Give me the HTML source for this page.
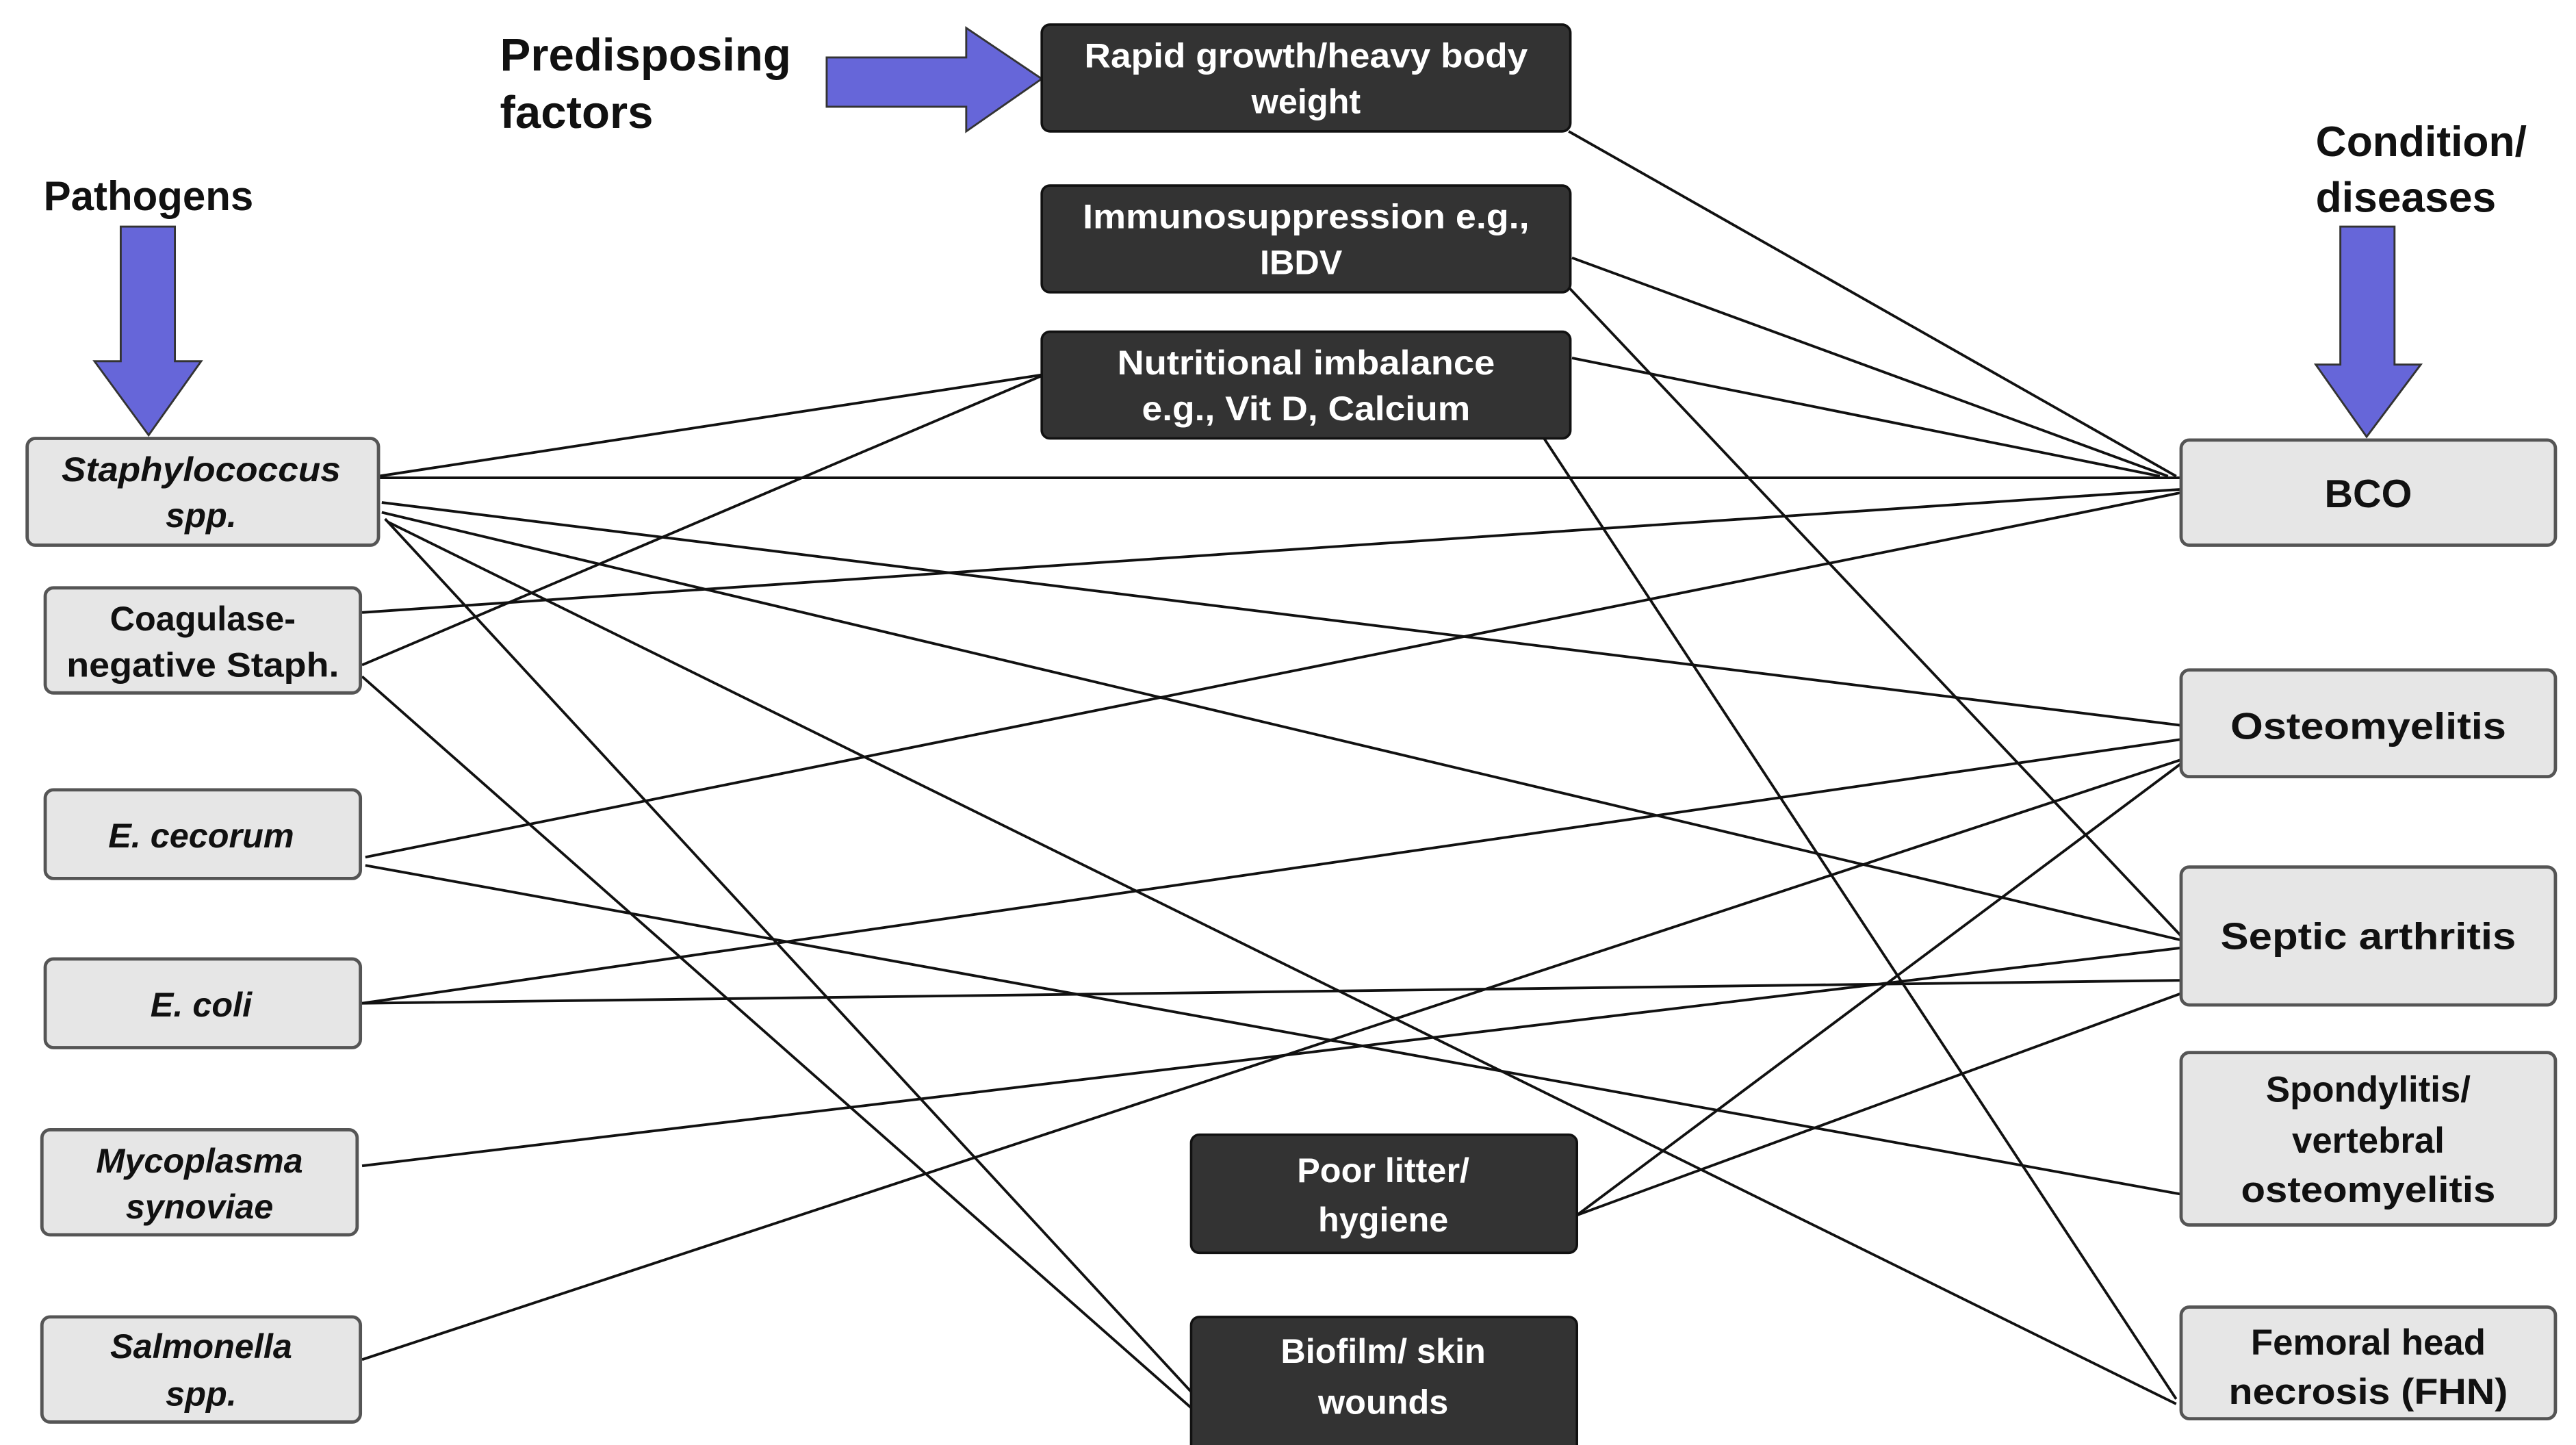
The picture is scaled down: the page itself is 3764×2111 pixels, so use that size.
<!DOCTYPE html>
<html><head><meta charset="utf-8"><style>
html,body{margin:0;padding:0;background:#fff;}
svg{display:block;}
text{font-family:"Liberation Sans",sans-serif;font-weight:bold;}
</style></head><body>
<svg width="3764" height="2111" viewBox="0 0 1568 880" xmlns="http://www.w3.org/2000/svg">
<rect width="1568" height="880" fill="#fff"/>
<g stroke="#111" stroke-width="1.6" fill="none">
<line x1="230" y1="290" x2="636" y2="228"/>
<line x1="228" y1="291" x2="1328" y2="291"/>
<line x1="232" y1="306" x2="1330" y2="442"/>
<line x1="232" y1="312" x2="1330" y2="573"/>
<line x1="236" y1="318" x2="1325" y2="855"/>
<line x1="234" y1="316" x2="742" y2="866"/>
<line x1="220" y1="412" x2="728" y2="860"/>
<line x1="220" y1="373" x2="1328" y2="298"/>
<line x1="220" y1="405" x2="636" y2="228"/>
<line x1="222" y1="522" x2="1328" y2="300"/>
<line x1="222" y1="527" x2="1332" y2="728"/>
<line x1="220" y1="611" x2="1330" y2="450"/>
<line x1="220" y1="611" x2="1330" y2="597"/>
<line x1="220" y1="710" x2="1330" y2="577"/>
<line x1="220" y1="828" x2="1330" y2="462"/>
<line x1="955" y1="80" x2="1325" y2="290"/>
<line x1="957" y1="157" x2="1320" y2="290"/>
<line x1="955" y1="175" x2="1328" y2="570"/>
<line x1="957" y1="218" x2="1315" y2="290"/>
<line x1="938" y1="264" x2="1325" y2="852"/>
<line x1="960" y1="740" x2="1328" y2="465"/>
<line x1="960" y1="740" x2="1328" y2="605"/>
</g>
<!-- arrows -->
<g fill="#6666d9" stroke="#333" stroke-width="1.2">
<polygon points="503,35 588,35 588,17 634,48 588,80 588,65 503,65"/>
<polygon points="73,138 106,138 106,220 122,220 90,265 57,220 73,220"/>
<polygon points="1425,138 1458,138 1458,222 1474,222 1441,266 1410,222 1425,222"/>
</g>
<g font-size="28" fill="#111">
<text x="304" y="43">Predisposing</text>
<text x="304" y="78">factors</text>
<text x="26" y="128" font-size="25">Pathogens</text>
<text x="1410" y="95" font-size="26">Condition/</text>
<text x="1410" y="129" font-size="26">diseases</text>
</g>
<!-- dark boxes -->
<g fill="#333" stroke="#111" stroke-width="1.5">
<rect x="634" y="15" width="322" height="65" rx="5"/>
<rect x="634" y="113" width="322" height="65" rx="5"/>
<rect x="634" y="202" width="322" height="65" rx="5"/>
<rect x="725" y="691" width="235" height="72" rx="5"/>
<rect x="725" y="802" width="235" height="85" rx="5"/>
</g>
<g fill="#fff" font-size="21" text-anchor="middle">
<text x="795" y="41" textLength="270" lengthAdjust="spacingAndGlyphs">Rapid growth/heavy body</text>
<text x="795" y="69">weight</text>
<text x="795" y="139" textLength="272" lengthAdjust="spacingAndGlyphs">Immunosuppression e.g.,</text>
<text x="792" y="167">IBDV</text>
<text x="795" y="228" textLength="230" lengthAdjust="spacingAndGlyphs">Nutritional imbalance</text>
<text x="795" y="256" textLength="200" lengthAdjust="spacingAndGlyphs">e.g., Vit D, Calcium</text>
<text x="842" y="720">Poor litter/</text>
<text x="842" y="750">hygiene</text>
<text x="842" y="830">Biofilm/ skin</text>
<text x="842" y="861">wounds</text>
</g>
<!-- light boxes -->
<g fill="#e6e6e6" stroke="#555" stroke-width="2">
<rect x="16" y="267" width="214" height="65" rx="5"/>
<rect x="27" y="358" width="192" height="64" rx="5"/>
<rect x="27" y="481" width="192" height="54" rx="5"/>
<rect x="27" y="584" width="192" height="54" rx="5"/>
<rect x="25" y="688" width="192" height="64" rx="5"/>
<rect x="25" y="802" width="194" height="64" rx="5"/>
<rect x="1328" y="268" width="228" height="64" rx="5"/>
<rect x="1328" y="408" width="228" height="65" rx="5"/>
<rect x="1328" y="528" width="228" height="84" rx="5"/>
<rect x="1328" y="641" width="228" height="105" rx="5"/>
<rect x="1328" y="796" width="228" height="68" rx="5"/>
</g>
<g fill="#111" font-size="21" text-anchor="middle">
<text x="122" y="293" font-style="italic" textLength="170" lengthAdjust="spacingAndGlyphs">Staphylococcus</text>
<text x="122" y="321" font-style="italic">spp.</text>
<text x="123" y="384">Coagulase-</text>
<text x="123" y="412" textLength="166" lengthAdjust="spacingAndGlyphs">negative Staph.</text>
<text x="122" y="516" font-style="italic">E. cecorum</text>
<text x="122" y="619" font-style="italic">E. coli</text>
<text x="121" y="714" font-style="italic">Mycoplasma</text>
<text x="121" y="742" font-style="italic">synoviae</text>
<text x="122" y="827" font-style="italic">Salmonella</text>
<text x="122" y="856" font-style="italic">spp.</text>
<text x="1442" y="309" font-size="24">BCO</text>
<text x="1442" y="450" font-size="23" textLength="168" lengthAdjust="spacingAndGlyphs">Osteomyelitis</text>
<text x="1442" y="578" font-size="23" textLength="180" lengthAdjust="spacingAndGlyphs">Septic arthritis</text>
<text x="1442" y="671" font-size="22">Spondylitis/</text>
<text x="1442" y="702" font-size="22">vertebral</text>
<text x="1442" y="732" font-size="22" textLength="155" lengthAdjust="spacingAndGlyphs">osteomyelitis</text>
<text x="1442" y="825" font-size="22">Femoral head</text>
<text x="1442" y="855" font-size="22" textLength="170" lengthAdjust="spacingAndGlyphs">necrosis (FHN)</text>
</g>
</svg>
</body></html>
